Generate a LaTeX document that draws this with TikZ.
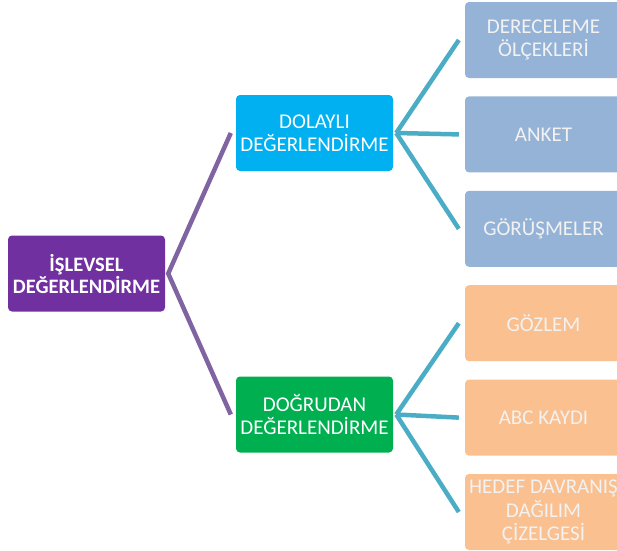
\documentclass[tikz,border=0pt]{standalone}
\usepackage{fontspec}
\setmainfont{Carlito}
\usepackage{xcolor}
\definecolor{colorRoot}{HTML}{7030A0}
\definecolor{colorIndirect}{HTML}{00B0F0}
\definecolor{colorDirect}{HTML}{00B050}
\definecolor{colorToolA}{HTML}{95B3D7}
\definecolor{colorToolB}{HTML}{FAC090}
\definecolor{colorBranch}{HTML}{8064A2}
\definecolor{colorTwig}{HTML}{4BACC6}
\usetikzlibrary{positioning}
\tikzset{
  box/.style={rectangle, rounded corners=4pt, minimum width=157pt, minimum height=76pt, inner sep=1pt, align=center, text=white, font=\fontsize{21}{23.5}\selectfont},
  rootbox/.style={box, fill=colorRoot, font=\bfseries\fontsize{20.5}{22}\selectfont},
  toolbox/.style={box, text=white!95!black},
  branch/.style={colorBranch, line width=4.5pt},
  twig/.style={colorTwig, line width=4.5pt}
}

\begin{document}
\begin{tikzpicture}[x=1pt, y=-1pt, node distance=18pt]
\useasboundingbox (0,0) rectangle (617,550);
\begin{scope}
\clip (0,0) rectangle (617,550);
\node[rootbox] (root) at (86.5,273.5) {İŞLEVSEL\\DEĞERLENDİRME};
\node[box, fill=colorIndirect] (dolayli) at (314.5,133) {DOLAYLI\\DEĞERLENDİRME};
\node[box, fill=colorDirect] (dogrudan) at (314.5,414.5) {DOĞRUDAN\\DEĞERLENDİRME};
% olcme araclari
\node[toolbox, fill=colorToolA] (derece) at (543.5,40) {DERECELEME\\ÖLÇEKLERİ};
\node[toolbox, fill=colorToolA, below=of derece] (anket) {ANKET};
\node[toolbox, fill=colorToolA, below=of anket] (gorusme) {GÖRÜŞMELER};
\node[toolbox, fill=colorToolB, below=of gorusme] (gozlem) {GÖZLEM};
\node[toolbox, fill=colorToolB, below=of gozlem] (abc) {ABC KAYDI};
\node[toolbox, fill=colorToolB, below=of abc] (hedef) {HEDEF DAVRANIŞ\\DAĞILIM\\ÇİZELGESİ};
\end{scope}
\draw[branch] ([xshift=-5pt]dolayli.west) -- ([xshift=3pt]root.east) -- ([xshift=-5pt]dogrudan.west);
\foreach \t in {derece, anket, gorusme}
  \draw[twig] ([xshift=3pt]dolayli.east) -- ([xshift=-6pt]\t.west);
\foreach \t in {gozlem, abc, hedef}
  \draw[twig] ([xshift=3pt]dogrudan.east) -- ([xshift=-6pt]\t.west);
\end{tikzpicture}
\end{document}
